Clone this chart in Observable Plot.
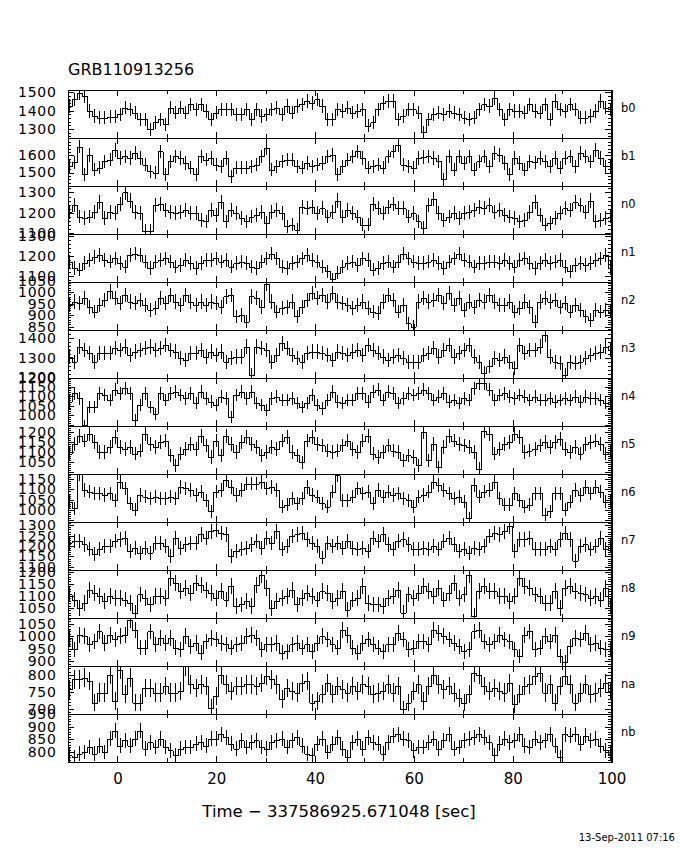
<!DOCTYPE html>
<html><head><meta charset="utf-8">
<script src="https://cdn.jsdelivr.net/npm/d3@7"></script>
<script src="https://cdn.jsdelivr.net/npm/@observablehq/plot@0.6"></script>
<style>
body{margin:0;background:#fff;}
#wrap{position:relative;width:680px;height:850px;font-family:"DejaVu Sans",sans-serif;color:#000;background:#fff;}
#wrap svg{position:absolute;left:0;top:0;}
.t{position:absolute;white-space:nowrap;line-height:1;}
.ylab{letter-spacing:0.7px;}
</style></head><body>
<div id="wrap">
<div class="t" style="left:68px;top:61.5px;font-size:16px;">GRB110913256</div>
<div class="t" style="left:0;width:678px;text-align:center;top:804px;font-size:16.5px;">Time − 337586925.671048 [sec]</div>
<div class="t" style="right:5px;top:832.5px;font-size:10px;">13-Sep-2011 07:16</div>
</div>
<script>
const detectors = ["b0","b1","n0","n1","n2","n3","n4","n5","n6","n7","n8","n9","na","nb"];
const binStart = -10.3, binWidth = 1.024;

const b0 = [1425,1461,1497,1480,1398,1371,1362,1362,1366,1366,1380,1416,1407,1389,1353,1353,1299,1335,1353,1326,1416,1389,1416,1389,1434,1407,1434,1398,1353,1389,1407,1407,1407,1380,1380,1407,1353,1407,1371,1380,1407,1416,1380,1425,1389,1425,1434,1452,1443,1461,1425,1353,1353,1407,1398,1416,1389,1398,1407,1317,1335,1407,1443,1452,1452,1353,1371,1407,1407,1389,1281,1353,1380,1389,1380,1398,1389,1380,1362,1353,1362,1407,1434,1425,1470,1407,1353,1407,1398,1398,1389,1434,1398,1389,1434,1353,1452,1407,1398,1434,1407,1362,1362,1371,1398,1452,1416,1407];
const b1 = [1537,1560,1652,1489,1604,1517,1527,1565,1575,1633,1585,1594,1585,1613,1585,1546,1508,1498,1623,1489,1565,1594,1585,1556,1527,1489,1594,1575,1585,1546,1537,1585,1479,1527,1527,1527,1537,1546,1594,1642,1517,1537,1565,1575,1575,1537,1527,1556,1537,1546,1556,1594,1604,1489,1537,1575,1594,1623,1585,1527,1537,1546,1527,1594,1623,1661,1546,1537,1527,1585,1590,1594,1585,1565,1460,1594,1517,1594,1556,1594,1517,1565,1594,1537,1613,1604,1556,1489,1585,1556,1517,1565,1560,1585,1565,1537,1585,1527,1585,1594,1537,1613,1594,1565,1633,1585,1537,1537];
const n0 = [1205,1237,1181,1173,1181,1205,1252,1173,1205,1197,1245,1300,1260,1205,1197,1109,1109,1237,1245,1213,1205,1197,1205,1213,1197,1197,1165,1157,1213,1189,1252,1157,1213,1197,1173,1157,1181,1189,1205,1149,1205,1213,1197,1133,1141,1117,1229,1221,1229,1197,1221,1181,1205,1260,1181,1213,1197,1181,1141,1141,1245,1221,1197,1229,1245,1221,1221,1181,1197,1157,1125,1237,1268,1197,1165,1181,1197,1173,1197,1205,1213,1229,1221,1237,1205,1213,1189,1181,1173,1157,1165,1205,1252,1189,1141,1149,1173,1197,1221,1213,1252,1237,1205,1260,1157,1165,1173,1181];
const n1 = [1173,1140,1132,1165,1181,1197,1205,1181,1173,1189,1165,1148,1205,1213,1205,1173,1140,1173,1181,1189,1173,1148,1156,1181,1165,1140,1165,1181,1181,1189,1173,1181,1148,1165,1173,1165,1148,1140,1173,1189,1213,1189,1148,1140,1165,1173,1189,1205,1181,1173,1148,1124,1084,1116,1148,1165,1173,1156,1189,1181,1132,1140,1165,1173,1148,1173,1213,1189,1173,1165,1165,1173,1181,1165,1140,1173,1189,1213,1181,1173,1148,1165,1165,1173,1173,1165,1181,1165,1148,1181,1189,1165,1140,1165,1181,1165,1173,1181,1148,1124,1156,1165,1156,1165,1181,1189,1205,1140];
const n2 = [944,959,952,974,937,915,944,966,1003,974,952,988,959,952,966,944,923,930,974,952,988,959,944,988,959,944,959,944,959,952,937,981,988,894,901,872,981,974,937,1036,959,915,930,937,959,894,937,966,996,974,988,959,996,959,952,944,930,944,959,930,915,908,959,988,966,915,944,864,850,959,974,959,966,988,952,996,944,974,923,959,937,966,959,988,959,944,944,959,915,930,959,937,872,959,974,959,966,937,952,915,944,923,894,879,923,915,923,915];
const n3 = [1308,1283,1358,1342,1325,1283,1325,1325,1325,1350,1342,1358,1317,1333,1342,1350,1358,1342,1350,1367,1342,1333,1300,1292,1325,1325,1342,1308,1333,1317,1333,1283,1300,1308,1308,1358,1217,1358,1350,1342,1283,1317,1375,1350,1317,1300,1283,1325,1333,1333,1325,1317,1292,1333,1325,1317,1333,1342,1317,1367,1342,1325,1308,1292,1308,1317,1300,1283,1283,1283,1317,1325,1350,1308,1342,1367,1308,1325,1342,1367,1308,1283,1225,1258,1300,1292,1308,1283,1250,1367,1325,1342,1342,1358,1417,1308,1283,1275,1217,1283,1275,1283,1300,1317,1325,1333,1358,1342];
const n4 = [1071,1115,1088,946,1044,1044,1115,1106,1080,1133,1115,1141,1115,973,1053,1115,1044,1008,1115,1080,1115,1124,1106,1088,1115,1062,1124,1088,1071,1053,1097,1088,991,1106,1124,1088,1124,1062,1053,1026,1088,1097,1080,1080,1088,1062,1044,1062,1106,1053,1035,1080,1124,1071,1062,1080,1080,1115,1115,1071,1124,1133,1080,1124,1115,1062,1088,1115,1106,1115,1133,1115,1080,1097,1115,1071,1080,1062,1088,1080,1141,1168,1168,1133,1080,1106,1115,1097,1088,1106,1097,1080,1097,1080,1080,1088,1071,1080,1088,1080,1097,1071,1097,1088,1088,1080,1062,1071];
const n5 = [1091,1140,1180,1156,1189,1148,1099,1099,1124,1172,1124,1115,1124,1091,1107,1189,1140,1124,1148,1156,1083,1034,1091,1115,1140,1115,1180,1132,1075,1156,1083,1180,1140,1099,1148,1172,1140,1124,1083,1099,1124,1115,1156,1172,1099,1083,1050,1156,1172,1140,1132,1107,1099,1107,1132,1156,1115,1099,1156,1180,1091,1075,1099,1132,1107,1099,1058,1083,1075,1034,1197,1058,1140,1026,1124,1180,1156,1140,1132,1124,1099,1017,1205,1189,1091,1115,1140,1148,1189,1172,1099,1107,1115,1132,1148,1124,1148,1164,1115,1099,1124,1091,1140,1148,1156,1140,1091,1099];
const n6 = [1040,1008,1177,1097,1089,1081,1081,1073,1081,1048,1137,1105,1032,1000,1073,1065,1056,1065,1056,1056,1065,1056,1113,1105,1097,1073,1089,1048,992,1089,1097,1145,1113,1073,1097,1129,1129,1129,1137,1105,1113,1097,1016,1024,1056,1032,1056,1113,1073,1065,1032,1016,1089,1169,1048,1048,1065,1105,1081,1089,1032,1097,1065,1089,1073,1081,1056,1048,1016,1065,1073,1089,1137,1121,1097,1081,1056,1065,1040,960,1121,1065,1089,1097,1137,1056,1024,1024,1081,1048,1016,1024,1081,1081,976,992,1081,1081,1000,1040,1097,1073,1113,1081,1113,1089,1040,1040];
const n7 = [1216,1224,1224,1208,1184,1160,1184,1200,1200,1224,1232,1240,1176,1192,1168,1192,1168,1216,1216,1200,1153,1240,1192,1208,1216,1216,1256,1240,1271,1279,1264,1256,1153,1176,1184,1192,1208,1224,1192,1240,1216,1271,1184,1200,1248,1256,1264,1232,1216,1200,1145,1216,1200,1216,1192,1224,1192,1184,1192,1176,1240,1224,1256,1208,1184,1224,1232,1208,1184,1184,1192,1184,1200,1184,1224,1240,1208,1176,1184,1168,1192,1184,1200,1248,1264,1256,1271,1295,1176,1232,1232,1240,1184,1184,1184,1200,1184,1232,1264,1232,1129,1200,1208,1184,1200,1240,1184,1200];
const n8 = [1106,1085,1051,1072,1126,1113,1099,1078,1099,1092,1092,1085,1072,1031,1106,1092,1065,1099,1099,1092,1173,1153,1119,1133,1113,1153,1146,1126,1113,1092,1119,1085,1140,1058,1065,1078,1058,1146,1187,1133,1051,1078,1092,1099,1126,1065,1092,1113,1099,1085,1119,1113,1078,1092,1119,1044,1085,1092,1140,1072,1065,1065,1058,1092,1099,1126,1031,1106,1092,1113,1140,1119,1099,1133,1085,1113,1153,1092,1106,1187,1017,1119,1140,1119,1119,1099,1099,1078,1099,1173,1140,1133,1106,1099,1072,1072,1119,1051,1133,1140,1119,1113,1106,1092,1099,1085,1133,1058];
const n9 = [993,947,1006,1000,967,980,1019,973,1006,987,1000,1006,1065,1026,954,954,1019,967,993,973,993,954,947,1000,960,973,934,980,993,987,973,967,954,967,973,1000,1006,993,947,967,967,973,934,940,967,973,954,967,940,973,1000,987,967,954,1026,1006,954,934,973,987,967,954,940,967,967,1013,987,947,954,980,980,967,1026,1013,1000,987,973,960,940,947,1019,1026,980,967,980,1006,987,980,947,921,1006,1019,947,954,1000,980,1006,921,895,960,993,987,1013,967,973,954,947,947];
const na = [757,787,787,792,782,718,748,748,801,723,816,743,792,718,718,762,762,748,748,767,748,748,752,826,772,762,772,767,703,738,801,772,752,767,767,772,772,767,777,797,787,772,728,762,752,748,777,782,718,723,743,777,743,767,757,748,767,752,772,767,743,748,752,772,748,767,698,718,752,772,723,767,801,772,757,767,748,733,718,743,806,801,767,752,762,752,748,777,713,743,767,772,797,806,748,772,718,767,797,772,718,748,772,743,748,762,777,752];
const nb = [788,782,795,801,820,795,826,801,852,884,826,846,826,852,884,814,839,820,852,820,807,788,814,820,820,833,839,826,852,852,871,858,833,814,846,820,839,846,820,814,839,846,852,820,846,858,826,795,788,833,852,801,833,858,814,782,839,852,814,858,839,833,795,839,865,871,852,846,807,820,820,839,852,814,846,871,814,820,846,852,858,871,858,839,788,833,852,839,846,871,826,820,852,839,846,871,826,782,871,865,871,833,865,846,852,826,807,795];

// y range of each panel (low, high) and its labelled ticks
const yLow  = [1250,1421,1095,1070, 835,1200, 943, 991, 940,1085,1009, 881,684,762];
const yHigh = [1513,1702,1332,1312,1044,1442,1195,1228,1176,1316,1207,1073,827,949];
const yLabels = [
  [1300,1400,1500],[1500,1600],[1100,1200,1300],[1100,1200,1300],
  [850,900,950,1000,1050],[1200,1300,1400],[1000,1050,1100,1150,1200],
  [1050,1100,1150,1200],[1000,1050,1100,1150],[1100,1150,1200,1250,1300],
  [1050,1100,1150,1200],[900,950,1000,1050],[700,750,800],[800,850,900,950]
];
const yMinorStep = [20,20,20,20,10,20,10,10,10,10,10,10,10,10];
const xLabels = [0,20,40,60,80,100];
const xMinorTicks = [10,30,50,70,90];
const xMajorTicks = [0,20,40,60,80];

const series = [b0,b1,n0,n1,n2,n3,n4,n5,n6,n7,n8,n9,na,nb];
const norm = (i, v) => (v - yLow[i]) / (yHigh[i] - yLow[i]);

const stepRows = [], binRows = [], yTickRows = [], yLabelRows = [];
series.forEach((vals, i) => {
  const det = detectors[i];
  vals.forEach((v, k) => {
    const t0 = binStart + k * binWidth;
    const err = Math.sqrt(v / binWidth);
    stepRows.push({det, t: t0, yn: norm(i, v)});
    binRows.push({det, tc: t0 + binWidth / 2, ylo: norm(i, v - err), yhi: norm(i, v + err)});
  });
  stepRows.push({det, t: binStart + vals.length * binWidth, yn: norm(i, vals[vals.length - 1])});
  const labStep = yLabels[i][1] - yLabels[i][0];
  const m = yMinorStep[i];
  for (let v = Math.ceil(yLow[i] / m) * m; v <= yHigh[i]; v += m) {
    yTickRows.push({det, yn: norm(i, v), major: v % labStep === 0});
  }
  yLabels[i].forEach(v => yLabelRows.push({det, yn: norm(i, v), label: String(v)}));
});

const tickMaj = 1.3, tickMin = 0.7;   // y-tick length in x units
const xt = {maj: 0.13, min: 0.08};    // x-tick length in panel units
const crisp = {shapeRendering: "crispEdges"};

const chart = Plot.plot({
  width: 680, height: 850,
  marginTop: 85.7, marginBottom: 84.6, marginLeft: 68, marginRight: 68.5,
  x: {domain: [-10, 100]},
  y: {domain: [0, 1], axis: null},
  fy: {domain: detectors, padding: 0},
  style: {fontFamily: "DejaVu Sans, sans-serif", fontSize: "15px", color: "black", background: "white", overflow: "visible"},
  marks: [
    Plot.line(stepRows, {x: "t", y: "yn", fy: "det", curve: "step-after", stroke: "black", strokeWidth: 1, clip: true, ...crisp}),
    Plot.ruleX(binRows, {x: "tc", y1: "ylo", y2: "yhi", fy: "det", stroke: "black", strokeWidth: 1, clip: true, ...crisp}),
    Plot.ruleY(yTickRows, {y: "yn", fy: "det", x1: -10, x2: d => -10 + (d.major ? tickMaj : tickMin), stroke: "black", strokeWidth: 1, ...crisp}),
    Plot.ruleY(yTickRows, {y: "yn", fy: "det", x1: 100, x2: d => 100 - (d.major ? tickMaj : tickMin), stroke: "black", strokeWidth: 1, ...crisp}),
    Plot.ruleX(xMajorTicks, {x: d => d, y1: 0, y2: xt.maj, stroke: "black", strokeWidth: 1, ...crisp}),
    Plot.ruleX(xMajorTicks, {x: d => d, y1: 1, y2: 1 - xt.maj, stroke: "black", strokeWidth: 1, ...crisp}),
    Plot.ruleX(xMinorTicks, {x: d => d, y1: 0, y2: xt.min, stroke: "black", strokeWidth: 1, ...crisp}),
    Plot.ruleX(xMinorTicks, {x: d => d, y1: 1, y2: 1 - xt.min, stroke: "black", strokeWidth: 1, ...crisp}),
    Plot.frame({stroke: "black", strokeWidth: 1.5, ...crisp}),
    Plot.text(yLabelRows, {x: -10, y: "yn", fy: "det", text: "label", textAnchor: "end", dx: -12, fontSize: 14, fill: "black", className: "ylab"}),
    Plot.axisFy({anchor: "right", tickSize: 0, tickPadding: 9, dy: -6, fontSize: 11.5, label: null, textAnchor: "start"}),
    Plot.axisX({ticks: xLabels, anchor: "bottom", tickSize: 0, tickPadding: 11, fontSize: 15, label: null, facetAnchor: "bottom"})
  ]
});
document.getElementById("wrap").prepend(chart);
</script>
</body></html>
